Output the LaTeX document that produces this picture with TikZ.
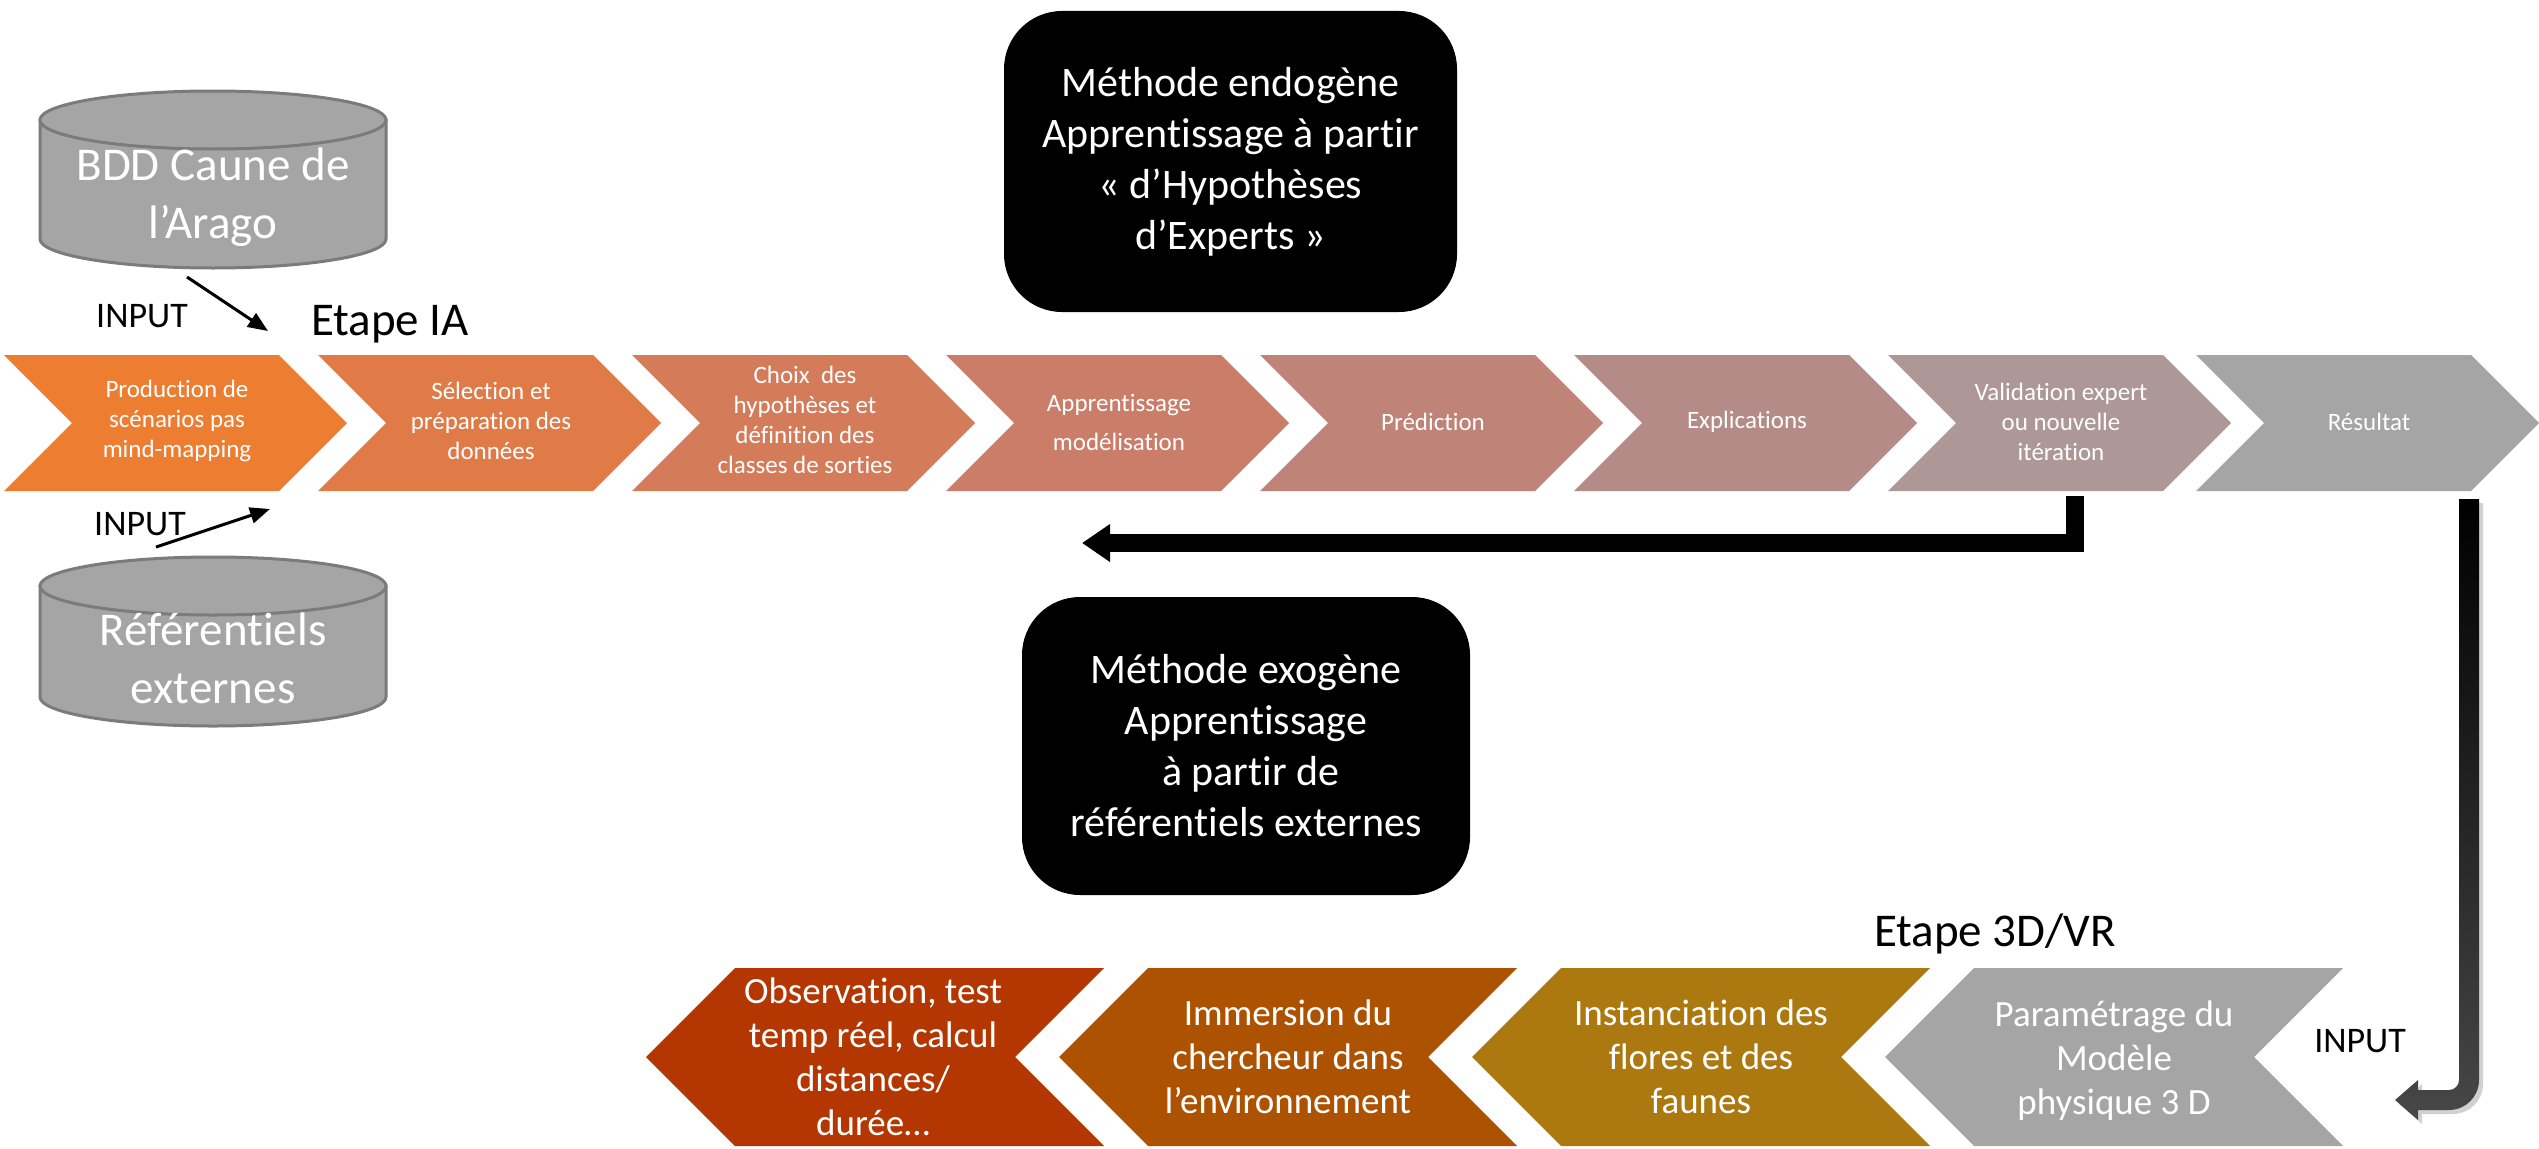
\documentclass[tikz,border=0pt]{standalone}
\usepackage{fontspec}
\setmainfont{Carlito}[Ligatures=NoCommon]
\usetikzlibrary{arrows.meta}
\definecolor{ch1}{HTML}{ED7D31}
\definecolor{ch2}{HTML}{E07B48}
\definecolor{ch3}{HTML}{D47B5A}
\definecolor{ch4}{HTML}{CA7D68}
\definecolor{ch5}{HTML}{BF8378}
\definecolor{ch6}{HTML}{B58B87}
\definecolor{ch7}{HTML}{AD9797}
\definecolor{ch8}{HTML}{A5A5A5}
\definecolor{bA}{HTML}{B43600}
\definecolor{bB}{HTML}{AD5200}
\definecolor{bC}{HTML}{AC7810}
\definecolor{bD}{HTML}{A5A5A5}
\definecolor{cylfill}{HTML}{A5A5A5}
\definecolor{cylline}{HTML}{7B7B7B}
\newcommand{\chevR}[2]{%
  \fill[#2] (#1,355) -- ({#1+275},355) -- ({#1+343},423) -- ({#1+275},491) -- (#1,491) -- ({#1+68},423) -- cycle;}
\newcommand{\chevL}[2]{%
  \fill[#2] (#1,968) -- ({#1-89},1057) -- (#1,1146) -- ({#1-369},1146) -- ({#1-458},1057) -- ({#1-369},968) -- cycle;}
\newcommand{\cylshape}[2]{%
  \filldraw[fill=cylfill,draw=cylline,line width=3pt] (40,{#1+29}) -- (40,{#2-29})
    arc[start angle=180,end angle=360,x radius=173pt,y radius=29pt] -- (386,{#1+29}) -- cycle;
  \filldraw[fill=cylfill,draw=cylline,line width=3pt] (213,{#1+29}) ellipse[x radius=173pt,y radius=29pt];}
\begin{document}
\begin{tikzpicture}[x=1pt,y=-1pt,
  ctext/.style={text=white,align=center,inner sep=0pt,font=\fontsize{25}{30}\selectfont},
  btext/.style={text=white,align=center,inner sep=0pt,font=\fontsize{37}{44}\selectfont},
  cyltext/.style={text=white,align=center,inner sep=0pt,font=\fontsize{47}{58}\selectfont},
  blackbox/.style={fill=black,rounded corners=58pt,text=white,align=center,inner sep=0pt,
    font=\fontsize{42}{51}\selectfont},
  lbl/.style={text=black,inner sep=0pt,font=\fontsize{36}{43}\selectfont},
  steplbl/.style={text=black,inner sep=0pt,font=\fontsize{47}{56}\selectfont},
  thinarrow/.style={draw=black,line width=3pt,-{Triangle[length=20pt,width=16pt]}},
  fbarrow/.style={draw=black,line width=18pt,-{Triangle[length=28pt,width=36pt]}}]
\useasboundingbox (0,0) rectangle (2539,1148);
\fill[white] (0,0) rectangle (2539,1148);

% cylinders
\cylshape{91}{268}
\node[cyltext] (bdd) at (213,197) {BDD Caune de\\l’Arago};
\cylshape{557}{726}
\node[cyltext] (ref) at (213,658) {Référentiels\\externes};

% top chevrons
\chevR{4}{ch1}
\chevR{318}{ch2}
\chevR{632}{ch3}
\chevR{946}{ch4}
\chevR{1260}{ch5}
\chevR{1574}{ch6}
\chevR{1888}{ch7}
\chevR{2196}{ch8}
\node[ctext] (t1) at (177,421) {Production de\\scénarios pas\\mind-mapping};
\node[ctext] (t2) at (491,421) {Sélection et\\préparation des\\données};
\node[ctext] (t3) at (805,420) {Choix\ \ des\\hypothèses et\\définition des\\classes de sorties};
\node[ctext] (t4) at (1119,422) {Apprentissage\\[9pt]modélisation};
\node[ctext] (t5) at (1433,422) {Prédiction};
\node[ctext] (t6) at (1747,422) {Explications};
\node[ctext] (t7) at (2061,422) {Validation expert\\ou nouvelle\\itération};
\node[ctext] (t8) at (2369,422) {Résultat};

% labels
\node[steplbl] (etia) at (390,324) {Etape IA};
\node[lbl] (in1) at (142,316) {INPUT};
\node[lbl] (in2) at (140,524) {INPUT};
\node[steplbl] (et3d) at (1995,934) {Etape 3D/VR};
\node[lbl] (in3) at (2360,1041) {INPUT};

% input arrows
\coordinate (a1s) at (187,277);
\coordinate (a1e) at (268,331);
\draw[thinarrow] (a1s) -- (a1e);
\coordinate (a2s) at (156,547);
\coordinate (a2e) at (270,509);
\draw[thinarrow] (a2s) -- (a2e);

% black boxes
\node[blackbox,minimum width=453pt,minimum height=301pt] (endo) at (1230.5,161.5)
  {Méthode endogène\\Apprentissage à partir\\« d’Hypothèses\\d’Experts »};
\node[blackbox,minimum width=448pt,minimum height=298pt] (exo) at (1246,746)
  {Méthode exogène\\Apprentissage\\\ à partir de\\référentiels externes};

% feedback arrow
\coordinate (fb0) at (2075,496);
\coordinate (fb1) at (2075,543);
\coordinate (fbE) at (1082,543);
\draw[fbarrow] (fb0) -- (fb1) -- (fbE);

% right arrow (to 3D stage)
\coordinate (rs) at (2469,499);
\coordinate (re) at (2395,1100);
\fill[black,opacity=0.18,shift={(4pt,-4pt)}] (2459,499) -- (2479,499) -- (2479,1080)
  .. controls (2479,1096.6) and (2465.6,1110) .. (2449,1110) -- (2418,1110) -- (2418,1120)
  -- (2395,1100) -- (2418,1080) -- (2418,1090) -- (2449,1090)
  .. controls (2454.5,1090) and (2459,1085.5) .. (2459,1080) -- cycle;
\shade[top color=black,bottom color=black!72] (2459,499) -- (2479,499) -- (2479,1080)
  .. controls (2479,1096.6) and (2465.6,1110) .. (2449,1110) -- (2418,1110) -- (2418,1120)
  -- (re) -- (2418,1080) -- (2418,1090) -- (2449,1090)
  .. controls (2454.5,1090) and (2459,1085.5) .. (2459,1080) -- cycle;

% bottom chevrons
\chevL{1104}{bA}
\chevL{1517}{bB}
\chevL{1930}{bC}
\chevL{2343}{bD}
\node[btext] (bt1) at (873,1057) {Observation, test\\temp réel, calcul\\distances/\\durée…};
\node[btext] (bt2) at (1288,1057) {Immersion du\\chercheur dans\\l’environnement};
\node[btext] (bt3) at (1701,1057) {Instanciation des\\flores et des\\faunes};
\node[btext] (bt4) at (2114,1061) {Paramétrage du\\Modèle\\physique 3 D};
\end{tikzpicture}
\end{document}
